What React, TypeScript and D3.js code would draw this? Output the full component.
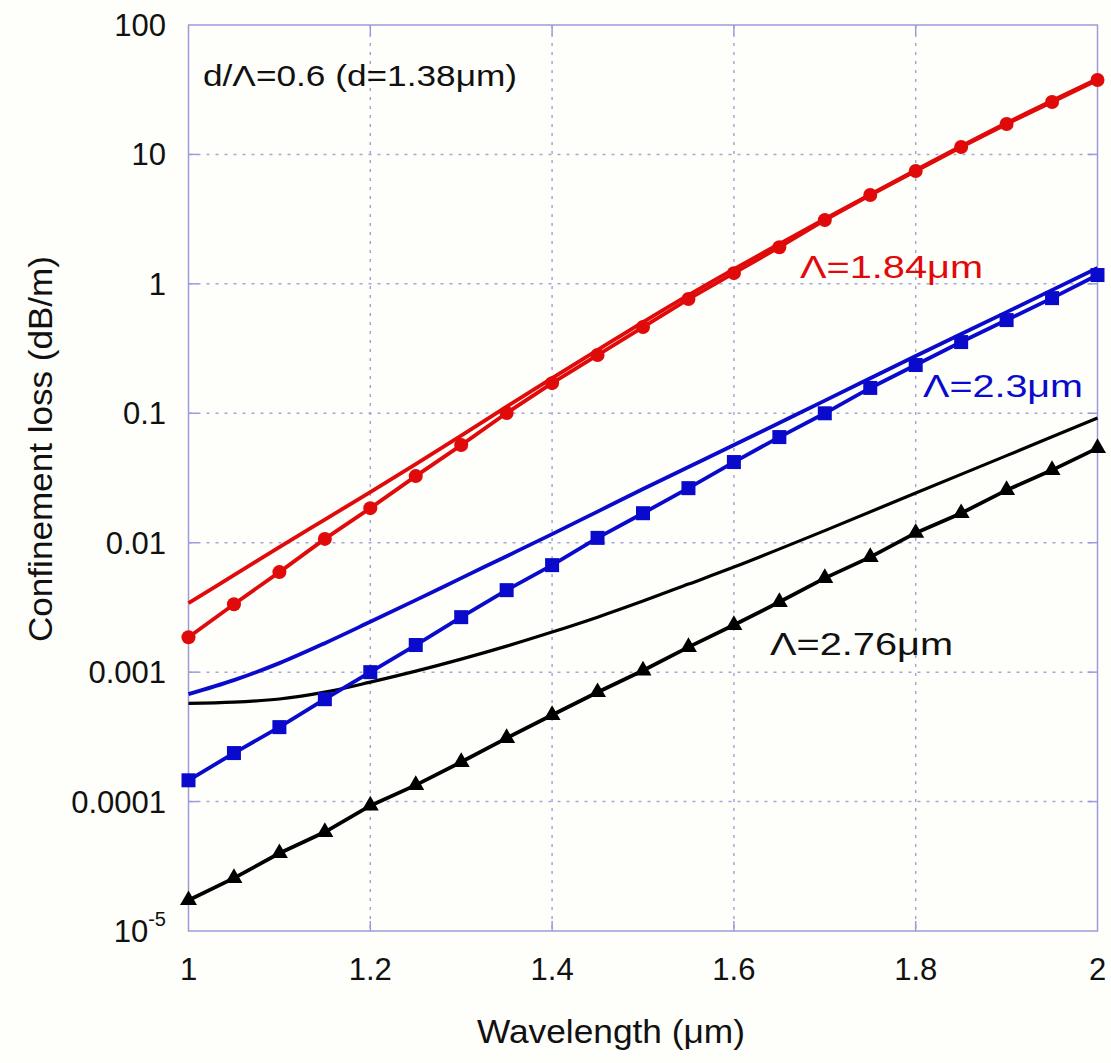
import React from "react";
import * as d3 from "d3";

// wavelength grid (µm)
const xMarkers = [1.0,1.05,1.1,1.15,1.2,1.25,1.3,1.35,1.4,1.45,1.5,1.55,1.6,1.65,1.7,1.75,1.8,1.85,1.9,1.95,2.0];
const xSolid = [1.0,1.05,1.1,1.15,1.2,1.25,1.3,1.35,1.4,1.45,1.5,1.55,1.6,1.7,1.8,1.9,2.0];

// Λ=1.84µm
const redMarkers = [0.00186,0.00335,0.00593,0.0107,0.0185,0.0327,0.0568,0.1005,0.171,0.282,0.464,0.763,1.21,1.92,3.11,4.86,7.44,11.4,17.2,25.4,37.6];
const redSolid = [0.00341,0.00562,0.00925,0.01509,0.0246,0.0405,0.0672,0.1126,0.187,0.308,0.507,0.819,1.301,3.17,7.57,17.5,38.3];
// Λ=2.3µm
const blueMarkers = [0.000146,0.000237,0.000376,0.000618,0.001,0.00162,0.00266,0.0043,0.00671,0.0109,0.0169,0.0264,0.042,0.0655,0.1,0.157,0.236,0.355,0.525,0.776,1.17];
const blueSolid = [0.000676,0.000867,0.001174,0.001675,0.00245,0.0036,0.00533,0.00787,0.01165,0.0174,0.026,0.0384,0.0568,0.1253,0.277,0.605,1.325];
// Λ=2.76µm
const blackMarkers = [1.73e-5,2.56e-5,3.99e-5,5.81e-5,9.3e-5,1.34e-4,2.02e-4,3.09e-4,4.66e-4,7.0e-4,1.03e-3,1.56e-3,2.31e-3,3.48e-3,5.33e-3,7.74e-3,1.19e-2,1.69e-2,2.55e-2,3.64e-2,5.38e-2];
const blackSolid = [5.74e-4,5.86e-4,6.2e-4,7.0e-4,8.37e-4,1.018e-3,1.26e-3,1.588e-3,2.04e-3,2.66e-3,3.54e-3,4.79e-3,6.48e-3,1.24e-2,2.42e-2,4.71e-2,9.18e-2];

const xTicks = [1, 1.2, 1.4, 1.6, 1.8, 2];
const xTickLabels = ["1", "1.2", "1.4", "1.6", "1.8", "2"];
const yTicks = [100, 10, 1, 0.1, 0.01, 0.001, 0.0001, 0.00001];
const yTickLabels = ["100", "10", "1", "0.1", "0.01", "0.001", "0.0001", "10^-5"];

const FONT = "'Liberation Sans', Arial, Helvetica, sans-serif";

export default function App() {
  const W = 1111, H = 1063;
  const left = 188.5, right = 1097.5, top = 25, bottom = 931;
  const x = d3.scaleLinear().domain([1, 2]).range([left, right]);
  const y = d3.scaleLog().domain([1e-5, 100]).range([bottom, top]);

  const lin = d3.line<[number, number]>().x(d => x(d[0])).y(d => y(d[1]));
  const smooth = d3.line<[number, number]>().x(d => x(d[0])).y(d => y(d[1])).curve(d3.curveCatmullRom.alpha(0.5));
  const pts = (xs: number[], ys: number[]) => xs.map((v, i) => [v, ys[i]] as [number, number]);

  const frame = "#9c9cdc";
  const grid = "#a6a6d6";
  const red = "#e00a0a";
  const blue = "#0a0acc";

  const tri = d3.symbol().type(d3.symbolTriangle).size(125)();

  return (
    <svg width={W} height={H} style={{ position: "absolute", left: 0, top: 0, background: "#fefefa" }} fontFamily={FONT}>
      <rect x={0} y={0} width={W} height={H} fill="#fefefa" />
      {/* grid */}
      {xTicks.slice(1, -1).map(t => (
        <line key={"gx" + t} x1={x(t)} x2={x(t)} y1={top} y2={bottom} stroke={grid} strokeWidth={1.5} strokeDasharray="3,6" />
      ))}
      {yTicks.slice(1, -1).map(t => (
        <line key={"gy" + t} x1={left} x2={right} y1={y(t)} y2={y(t)} stroke={grid} strokeWidth={1.5} strokeDasharray="3,6" />
      ))}
      {/* ticks */}
      {xTicks.slice(1, -1).map(t => (
        <g key={"tx" + t}>
          <line x1={x(t)} x2={x(t)} y1={bottom} y2={bottom - 10} stroke={frame} strokeWidth={1.5} />
          <line x1={x(t)} x2={x(t)} y1={top} y2={top + 10} stroke={frame} strokeWidth={1.5} />
        </g>
      ))}
      {yTicks.slice(1, -1).map(t => (
        <g key={"ty" + t}>
          <line x1={left} x2={left + 10} y1={y(t)} y2={y(t)} stroke={frame} strokeWidth={1.5} />
          <line x1={right} x2={right - 10} y1={y(t)} y2={y(t)} stroke={frame} strokeWidth={1.5} />
        </g>
      ))}
      <rect x={left} y={top} width={right - left} height={bottom - top} fill="none" stroke={frame} strokeWidth={1.5} />

      {/* solid curves */}
      <path d={smooth(pts(xSolid, redSolid)) || ""} fill="none" stroke={red} strokeWidth={3.8} />
      <path d={smooth(pts(xSolid, blueSolid)) || ""} fill="none" stroke={blue} strokeWidth={3.8} />
      <path d={smooth(pts(xSolid, blackSolid)) || ""} fill="none" stroke="#000" strokeWidth={3.2} />

      {/* marker curves */}
      <path d={lin(pts(xMarkers, redMarkers)) || ""} fill="none" stroke={red} strokeWidth={3.8} />
      {xMarkers.map((v, i) => (
        <circle key={"rm" + i} cx={x(v)} cy={y(redMarkers[i])} r={7} fill={red} />
      ))}
      <path d={lin(pts(xMarkers, blueMarkers)) || ""} fill="none" stroke={blue} strokeWidth={3.8} />
      {xMarkers.map((v, i) => (
        <rect key={"bm" + i} x={x(v) - 7} y={y(blueMarkers[i]) - 7} width={14} height={14} fill={blue} />
      ))}
      <path d={lin(pts(xMarkers, blackMarkers)) || ""} fill="none" stroke="#000" strokeWidth={3.8} />
      {xMarkers.map((v, i) => (
        <path key={"km" + i} d={tri || ""} transform={`translate(${x(v)},${y(blackMarkers[i])})`} fill="#000" />
      ))}

      {/* y tick labels */}
      {yTicks.map((t, i) => {
        const lab = yTickLabels[i];
        if (lab.startsWith("10^")) {
          return (
            <text key={"yl" + i} x={166} y={y(t) + 11} textAnchor="end" fontSize={31} fill="#111">
              10<tspan fontSize={20} dy={-16}>{lab.slice(3)}</tspan>
            </text>
          );
        }
        return (
          <text key={"yl" + i} x={166} y={y(t) + 11} textAnchor="end" fontSize={31} fill="#111">{lab}</text>
        );
      })}
      {/* x tick labels */}
      {xTicks.map((t, i) => (
        <text key={"xl" + i} x={x(t)} y={980} textAnchor="middle" fontSize={31} fill="#111">{xTickLabels[i]}</text>
      ))}

      {/* axis titles */}
      <text x={611} y={1043} textAnchor="middle" fontSize={33} fill="#111" textLength={268} lengthAdjust="spacingAndGlyphs">Wavelength (μm)</text>
      <text transform="translate(52,449) rotate(-90)" textAnchor="middle" fontSize={33} fill="#111" textLength={386} lengthAdjust="spacingAndGlyphs">Confinement loss (dB/m)</text>

      {/* annotations */}
      <text x={203} y={86} fontSize={30} fill="#111" textLength={314} lengthAdjust="spacingAndGlyphs">d/Λ=0.6 (d=1.38μm)</text>
      <text x={800} y={278} fontSize={31} fill={red} textLength={183} lengthAdjust="spacingAndGlyphs">Λ=1.84μm</text>
      <text x={923} y={397} fontSize={31} fill={blue} textLength={160} lengthAdjust="spacingAndGlyphs">Λ=2.3μm</text>
      <text x={770} y={655} fontSize={31} fill="#111" textLength={183} lengthAdjust="spacingAndGlyphs">Λ=2.76μm</text>
    </svg>
  );
}
